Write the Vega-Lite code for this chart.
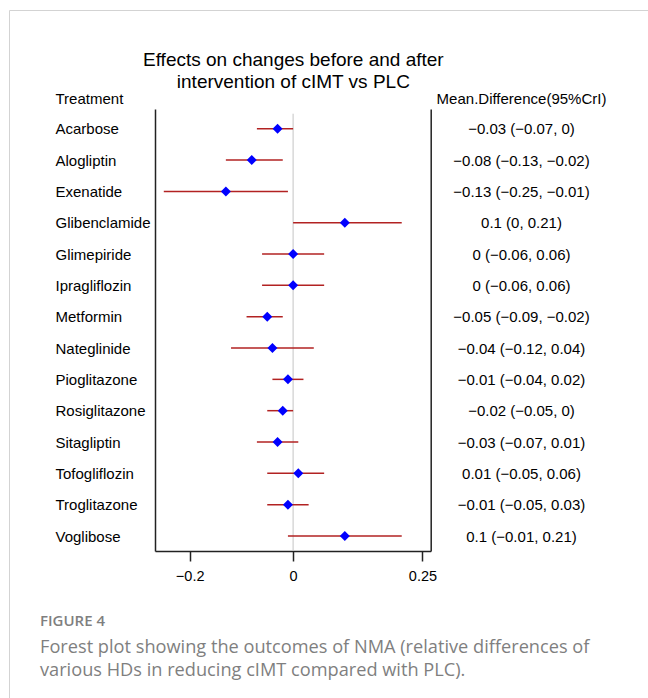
{
  "$schema": "https://vega.github.io/schema/vega-lite/v6.json",
  "width": 659,
  "height": 708,
  "autosize": {"type": "none"},
  "padding": {"left": 9, "top": 10, "right": -20, "bottom": -20},
  "background": "white",
  "config": {
    "view": {"stroke": "#d3d3d3", "strokeWidth": 1},
    "font": "Liberation Sans",
    "axis": {"labelFont": "Liberation Sans", "titleFont": "Liberation Sans", "grid": false}
  },
  "title": {
    "text": "FIGURE 4",
    "subtitle": ["Forest plot showing the outcomes of NMA (relative differences of", "various HDs in reducing cIMT compared with PLC)."],
    "orient": "bottom",
    "anchor": "start",
    "frame": "group",
    "offset": -104,
    "dx": 31,
    "font": "Open Sans",
    "fontSize": 15,
    "fontWeight": 600,
    "color": "#7f7f7f",
    "subtitleFont": "Open Sans",
    "subtitleFontSize": 18.2,
    "subtitleColor": "#7f7f7f",
    "subtitleLineHeight": 23,
    "subtitlePadding": 10
  },
  "data": {
    "values": [
      {"Treatment": "Acarbose", "md": -0.03, "lo": -0.07, "hi": 0, "ci": "−0.03 (−0.07, 0)"},
      {"Treatment": "Alogliptin", "md": -0.08, "lo": -0.13, "hi": -0.02, "ci": "−0.08 (−0.13, −0.02)"},
      {"Treatment": "Exenatide", "md": -0.13, "lo": -0.25, "hi": -0.01, "ci": "−0.13 (−0.25, −0.01)"},
      {"Treatment": "Glibenclamide", "md": 0.1, "lo": 0, "hi": 0.21, "ci": "0.1 (0, 0.21)"},
      {"Treatment": "Glimepiride", "md": 0, "lo": -0.06, "hi": 0.06, "ci": "0 (−0.06, 0.06)"},
      {"Treatment": "Ipragliflozin", "md": 0, "lo": -0.06, "hi": 0.06, "ci": "0 (−0.06, 0.06)\u200b"},
      {"Treatment": "Metformin", "md": -0.05, "lo": -0.09, "hi": -0.02, "ci": "−0.05 (−0.09, −0.02)"},
      {"Treatment": "Nateglinide", "md": -0.04, "lo": -0.12, "hi": 0.04, "ci": "−0.04 (−0.12, 0.04)"},
      {"Treatment": "Pioglitazone", "md": -0.01, "lo": -0.04, "hi": 0.02, "ci": "−0.01 (−0.04, 0.02)"},
      {"Treatment": "Rosiglitazone", "md": -0.02, "lo": -0.05, "hi": 0, "ci": "−0.02 (−0.05, 0)"},
      {"Treatment": "Sitagliptin", "md": -0.03, "lo": -0.07, "hi": 0.01, "ci": "−0.03 (−0.07, 0.01)"},
      {"Treatment": "Tofogliflozin", "md": 0.01, "lo": -0.05, "hi": 0.06, "ci": "0.01 (−0.05, 0.06)"},
      {"Treatment": "Troglitazone", "md": -0.01, "lo": -0.05, "hi": 0.03, "ci": "−0.01 (−0.05, 0.03)"},
      {"Treatment": "Voglibose", "md": 0.1, "lo": -0.01, "hi": 0.21, "ci": "0.1 (−0.01, 0.21)"}
    ]
  },
  "layer": [
    {
      "layer": [
        {
          "data": {"values": [{}]},
          "mark": {"type": "rule", "color": "#c4c4c4", "strokeWidth": 1, "yOffset": -15, "y2Offset": 15},
          "encoding": {
            "x": {"datum": 0, "type": "quantitative"},
            "y": {"datum": "Acarbose", "type": "nominal"},
            "y2": {"datum": "Voglibose"}
          }
        },
        {
          "mark": {"type": "rule", "color": "#b22222", "strokeWidth": 1.5},
          "encoding": {
            "x": {"field": "lo", "type": "quantitative"},
            "x2": {"field": "hi"},
            "y": {"field": "Treatment", "type": "nominal", "sort": null}
          }
        },
        {
          "mark": {"type": "point", "shape": "diamond", "filled": true, "color": "#0000ff", "opacity": 1, "size": 100},
          "encoding": {
            "x": {
              "field": "md",
              "type": "quantitative",
              "scale": {"domain": [-0.267, 0.266], "range": [146, 421.7], "nice": false, "zero": false},
              "axis": {
                "orient": "bottom",
                "offset": -167,
                "values": [-0.2, 0, 0.25],
                "format": "~g",
                "grid": false,
                "domainColor": "#222222",
                "domainWidth": 1.5,
                "tickColor": "#222222",
                "tickWidth": 1.5,
                "tickSize": 10,
                "labelFontSize": 14.5,
                "labelPadding": 8,
                "labelFlush": false,
                "labelColor": "#000000",
                "title": ["Effects on changes before and after", "intervention of cIMT vs PLC"],
                "titleFontSize": 19,
                "titleFontWeight": "normal",
                "titleColor": "#000000",
                "titleX": 283.85,
                "titleY": -486,
                "titleAlign": "center",
                "titleBaseline": "alphabetic",
                "titleLineHeight": 22
              }
            },
            "y": {
              "field": "Treatment",
              "type": "nominal",
              "sort": null,
              "scale": {
                "type": "point",
                "domain": ["Acarbose", "Alogliptin", "Exenatide", "Glibenclamide", "Glimepiride", "Ipragliflozin", "Metformin", "Nateglinide", "Pioglitazone", "Rosiglitazone", "Sitagliptin", "Tofogliflozin", "Troglitazone", "Voglibose"],
                "range": [99, 541],
                "padding": 0.554,
                "align": 0.568
              },
              "axis": {
                "orient": "left",
                "offset": -146,
                "domain": true,
                "domainColor": "#222222",
                "domainWidth": 1.5,
                "ticks": false,
                "tickSize": 0,
                "labelAlign": "left",
                "labelBaseline": "middle",
                "labelPadding": 100,
                "labelFontSize": 15,
                "labelColor": "#000000",
                "labelLimit": 300,
                "title": "Treatment",
                "titleAngle": 0,
                "titleAlign": "left",
                "titleBaseline": "middle",
                "titleX": -100,
                "titleY": 88,
                "titleFontSize": 15,
                "titleFontWeight": "normal",
                "titleColor": "#000000"
              }
            }
          }
        }
      ]
    },
    {
      "mark": {"type": "point", "opacity": 0},
      "encoding": {
        "x": {"field": "md", "type": "quantitative"},
        "y": {
          "field": "ci",
          "type": "nominal",
          "sort": null,
          "scale": {"type": "point", "range": [99, 541], "padding": 0.554, "align": 0.568},
          "axis": {
            "orient": "right",
            "offset": -237.3,
            "domain": true,
            "domainColor": "#222222",
            "domainWidth": 1.5,
            "ticks": false,
            "tickSize": 0,
            "labelAlign": "center",
            "labelBaseline": "middle",
            "labelPadding": 90.3,
            "labelFontSize": 15,
            "labelColor": "#000000",
            "labelLimit": 300,
            "title": "Mean.Difference(95%CrI)",
            "titleAngle": 0,
            "titleAlign": "center",
            "titleBaseline": "middle",
            "titleX": 90.3,
            "titleY": 88,
            "titleFontSize": 15,
            "titleFontWeight": "normal",
            "titleColor": "#000000"
          }
        }
      }
    }
  ],
  "resolve": {"scale": {"y": "independent"}}
}
